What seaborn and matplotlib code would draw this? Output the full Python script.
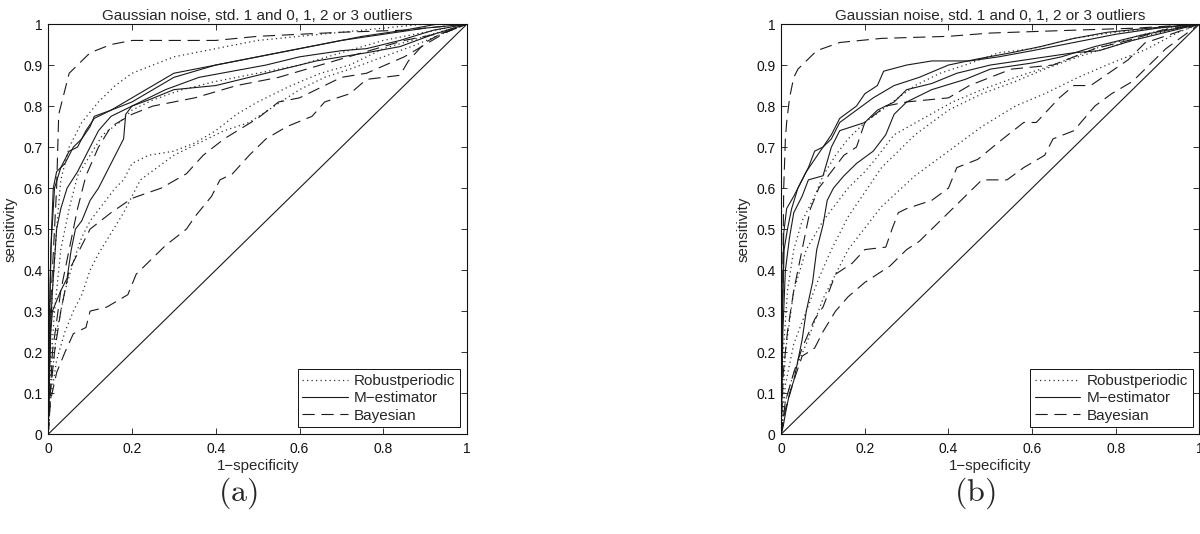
import matplotlib
matplotlib.use("Agg")
import matplotlib.pyplot as plt
import seaborn as sns

# ---- data: ROC curves (1-specificity, sensitivity) ----
TITLE = "Gaussian noise, std. 1 and 0, 1, 2 or 3 outliers"
METHODS = ["Robustperiodic", "M\u2212estimator", "Bayesian"]
X_TICKS = [0, 0.2, 0.4, 0.6, 0.8, 1]
X_TICKLABELS = ["0", "0.2", "0.4", "0.6", "0.8", "1"]
Y_TICKS = [0, 0.1, 0.2, 0.3, 0.4, 0.5, 0.6, 0.7, 0.8, 0.9, 1]
Y_TICKLABELS = ["0", "0.1", "0.2", "0.3", "0.4", "0.5", "0.6", "0.7", "0.8", "0.9", "1"]
DIAG = [0, 1]

# panel (a)
a_rob1_x = [0, 0.005, 0.01, 0.02, 0.03, 0.05, 0.08, 0.12, 0.16, 0.2, 0.25, 0.3, 0.4, 0.5, 0.6, 0.75, 0.9, 1]
a_rob1_y = [0, 0.2, 0.35, 0.5, 0.62, 0.7, 0.76, 0.81, 0.85, 0.88, 0.9, 0.92, 0.94, 0.96, 0.97, 0.985, 1, 1]
a_rob2_x = [0, 0.005, 0.015, 0.03, 0.05, 0.07, 0.1, 0.13, 0.17, 0.2, 0.25, 0.32, 0.4, 0.5, 0.6, 0.7, 0.8, 0.9, 1]
a_rob2_y = [0, 0.15, 0.3, 0.45, 0.55, 0.63, 0.68, 0.73, 0.76, 0.79, 0.815, 0.84, 0.86, 0.88, 0.9, 0.93, 0.96, 0.98, 1]
a_rob3_x = [0, 0.005, 0.02, 0.04, 0.06, 0.08, 0.1, 0.13, 0.16, 0.18, 0.2, 0.24, 0.3, 0.35, 0.4, 0.45, 0.5, 0.58, 0.65, 0.72, 0.8, 0.9, 1]
a_rob3_y = [0, 0.1, 0.25, 0.35, 0.42, 0.48, 0.52, 0.56, 0.6, 0.62, 0.66, 0.68, 0.69, 0.71, 0.74, 0.78, 0.81, 0.85, 0.88, 0.9, 0.94, 0.97, 1]
a_rob4_x = [0, 0.005, 0.02, 0.04, 0.06, 0.08, 0.1, 0.12, 0.15, 0.18, 0.2, 0.22, 0.26, 0.3, 0.36, 0.42, 0.48, 0.54, 0.6, 0.66, 0.72, 0.8, 0.88, 0.95, 1]
a_rob4_y = [0, 0.08, 0.18, 0.25, 0.3, 0.34, 0.4, 0.44, 0.49, 0.54, 0.58, 0.62, 0.65, 0.68, 0.71, 0.74, 0.76, 0.8, 0.84, 0.87, 0.89, 0.92, 0.95, 0.98, 1]

a_mest1_x = [0, 0.003, 0.008, 0.012, 0.02, 0.04, 0.06, 0.08, 0.1, 0.11, 0.15, 0.2, 0.25, 0.3, 0.35, 0.45, 0.55, 0.65, 0.75, 0.85, 0.93, 1]
a_mest1_y = [0, 0.3, 0.5, 0.6, 0.64, 0.66, 0.7, 0.72, 0.75, 0.775, 0.79, 0.82, 0.85, 0.88, 0.89, 0.91, 0.93, 0.95, 0.97, 0.985, 1, 1]
a_mest2_x = [0, 0.003, 0.006, 0.012, 0.015, 0.03, 0.05, 0.07, 0.09, 0.11, 0.15, 0.2, 0.25, 0.3, 0.4, 0.5, 0.6, 0.7, 0.8, 0.9, 1]
a_mest2_y = [0, 0.25, 0.45, 0.55, 0.6, 0.65, 0.69, 0.7, 0.74, 0.77, 0.79, 0.81, 0.84, 0.87, 0.9, 0.92, 0.94, 0.96, 0.975, 0.99, 1]
a_mest3_x = [0, 0.005, 0.01, 0.02, 0.03, 0.045, 0.07, 0.09, 0.12, 0.15, 0.2, 0.28, 0.36, 0.44, 0.52, 0.6, 0.7, 0.76, 0.84, 0.92, 1]
a_mest3_y = [0, 0.25, 0.35, 0.5, 0.55, 0.6, 0.64, 0.68, 0.74, 0.775, 0.8, 0.84, 0.87, 0.885, 0.9, 0.92, 0.935, 0.94, 0.96, 0.985, 1]
a_mest4_x = [0, 0.003, 0.006, 0.01, 0.03, 0.045, 0.055, 0.065, 0.08, 0.1, 0.12, 0.14, 0.16, 0.18, 0.185, 0.2, 0.24, 0.3, 0.4, 0.48, 0.56, 0.64, 0.76, 0.84, 0.92, 1]
a_mest4_y = [0, 0.15, 0.25, 0.3, 0.35, 0.38, 0.45, 0.5, 0.52, 0.57, 0.6, 0.64, 0.68, 0.72, 0.78, 0.8, 0.815, 0.84, 0.85, 0.87, 0.89, 0.91, 0.93, 0.945, 0.975, 1]

a_bay1_x = [0, 0.005, 0.02, 0.025, 0.04, 0.05, 0.07, 0.1, 0.15, 0.2, 0.4, 0.5, 0.7, 0.85, 1]
a_bay1_y = [0, 0.3, 0.6, 0.78, 0.84, 0.88, 0.9, 0.93, 0.95, 0.96, 0.96, 0.97, 0.98, 0.985, 1]
a_bay2_x = [0, 0.01, 0.03, 0.05, 0.07, 0.09, 0.12, 0.15, 0.2, 0.25, 0.35, 0.45, 0.55, 0.65, 0.75, 0.85, 0.95, 1]
a_bay2_y = [0, 0.2, 0.35, 0.45, 0.55, 0.63, 0.7, 0.75, 0.78, 0.8, 0.82, 0.85, 0.87, 0.9, 0.93, 0.96, 0.98, 1]
a_bay3_x = [0, 0.005, 0.015, 0.03, 0.05, 0.08, 0.1, 0.15, 0.2, 0.27, 0.33, 0.37, 0.42, 0.5, 0.55, 0.6, 0.7, 0.76, 0.85, 0.9, 0.95, 1]
a_bay3_y = [0, 0.1, 0.2, 0.3, 0.4, 0.46, 0.5, 0.54, 0.575, 0.6, 0.635, 0.68, 0.72, 0.77, 0.81, 0.82, 0.87, 0.88, 0.92, 0.95, 0.98, 1]
a_bay4_x = [0, 0.005, 0.02, 0.04, 0.06, 0.09, 0.1, 0.14, 0.19, 0.21, 0.24, 0.28, 0.33, 0.35, 0.39, 0.41, 0.44, 0.48, 0.52, 0.57, 0.63, 0.66, 0.72, 0.76, 0.84, 0.86, 0.9, 0.94, 1]
a_bay4_y = [0, 0.08, 0.15, 0.2, 0.245, 0.26, 0.3, 0.31, 0.34, 0.39, 0.42, 0.46, 0.5, 0.53, 0.58, 0.62, 0.635, 0.68, 0.72, 0.75, 0.775, 0.81, 0.83, 0.865, 0.875, 0.91, 0.955, 0.978, 1]

# panel (b)
b_rob1_x = [0, 0.005, 0.015, 0.03, 0.05, 0.08, 0.1, 0.13, 0.16, 0.2, 0.24, 0.28, 0.32, 0.38, 0.44, 0.52, 0.6, 0.7, 0.8, 0.9, 1]
b_rob1_y = [0, 0.2, 0.35, 0.45, 0.52, 0.58, 0.63, 0.68, 0.72, 0.76, 0.79, 0.82, 0.85, 0.88, 0.9, 0.93, 0.94, 0.965, 0.98, 0.99, 1]
b_rob2_x = [0, 0.01, 0.03, 0.06, 0.1, 0.13, 0.16, 0.2, 0.225, 0.27, 0.34, 0.41, 0.48, 0.56, 0.65, 0.75, 0.85, 0.93, 1]
b_rob2_y = [0, 0.2, 0.35, 0.45, 0.52, 0.56, 0.6, 0.64, 0.67, 0.73, 0.77, 0.81, 0.84, 0.87, 0.9, 0.94, 0.97, 0.99, 1]
b_rob3_x = [0, 0.01, 0.03, 0.06, 0.09, 0.12, 0.16, 0.24, 0.32, 0.4, 0.48, 0.56, 0.63, 0.71, 0.79, 0.87, 0.95, 1]
b_rob3_y = [0, 0.12, 0.22, 0.3, 0.38, 0.45, 0.53, 0.65, 0.73, 0.79, 0.83, 0.86, 0.89, 0.92, 0.945, 0.97, 0.99, 1]
b_rob4_x = [0, 0.01, 0.03, 0.06, 0.1, 0.16, 0.24, 0.32, 0.4, 0.48, 0.56, 0.63, 0.71, 0.79, 0.87, 0.95, 1]
b_rob4_y = [0, 0.08, 0.15, 0.22, 0.33, 0.45, 0.555, 0.63, 0.69, 0.75, 0.8, 0.83, 0.87, 0.905, 0.937, 0.98, 1]

b_mest1_x = [0, 0.003, 0.006, 0.013, 0.03, 0.05, 0.065, 0.08, 0.1, 0.12, 0.14, 0.18, 0.2, 0.23, 0.245, 0.3, 0.36, 0.45, 0.52, 0.6, 0.7, 0.8, 0.9, 1]
b_mest1_y = [0, 0.3, 0.49, 0.55, 0.58, 0.62, 0.65, 0.69, 0.7, 0.73, 0.77, 0.8, 0.83, 0.85, 0.885, 0.9, 0.91, 0.91, 0.92, 0.935, 0.955, 0.975, 0.99, 1]
b_mest2_x = [0, 0.003, 0.007, 0.015, 0.025, 0.04, 0.06, 0.08, 0.1, 0.12, 0.14, 0.18, 0.22, 0.27, 0.33, 0.4, 0.47, 0.55, 0.62, 0.7, 0.78, 0.88, 1]
b_mest2_y = [0, 0.3, 0.45, 0.5, 0.55, 0.6, 0.64, 0.67, 0.7, 0.72, 0.76, 0.79, 0.82, 0.85, 0.87, 0.9, 0.915, 0.93, 0.945, 0.965, 0.98, 0.99, 1]
b_mest3_x = [0, 0.004, 0.01, 0.02, 0.03, 0.05, 0.065, 0.1, 0.12, 0.14, 0.2, 0.23, 0.27, 0.3, 0.36, 0.42, 0.5, 0.6, 0.7, 0.76, 0.84, 0.92, 1]
b_mest3_y = [0, 0.25, 0.4, 0.48, 0.54, 0.58, 0.62, 0.63, 0.7, 0.74, 0.76, 0.79, 0.81, 0.84, 0.855, 0.88, 0.9, 0.915, 0.93, 0.935, 0.96, 0.98, 1]
b_mest4_x = [0, 0.005, 0.01, 0.02, 0.03, 0.04, 0.05, 0.06, 0.075, 0.085, 0.1, 0.11, 0.125, 0.15, 0.18, 0.22, 0.25, 0.27, 0.3, 0.36, 0.44, 0.5, 0.6, 0.67, 0.75, 0.87, 0.95, 1]
b_mest4_y = [0, 0.02, 0.05, 0.1, 0.13, 0.18, 0.23, 0.3, 0.37, 0.45, 0.51, 0.57, 0.6, 0.63, 0.66, 0.69, 0.73, 0.78, 0.81, 0.84, 0.865, 0.89, 0.905, 0.92, 0.945, 0.975, 0.99, 1]

b_bay1_x = [0, 0.003, 0.006, 0.01, 0.013, 0.02, 0.03, 0.04, 0.06, 0.085, 0.14, 0.24, 0.4, 0.5, 0.7, 0.85, 1]
b_bay1_y = [0, 0.3, 0.6, 0.72, 0.76, 0.82, 0.87, 0.89, 0.91, 0.935, 0.955, 0.965, 0.97, 0.978, 0.985, 0.99, 1]
b_bay2_x = [0, 0.005, 0.015, 0.03, 0.05, 0.07, 0.09, 0.12, 0.15, 0.18, 0.2, 0.25, 0.3, 0.4, 0.45, 0.5, 0.55, 0.65, 0.75, 0.83, 0.91, 1]
b_bay2_y = [0, 0.15, 0.25, 0.35, 0.45, 0.55, 0.6, 0.64, 0.68, 0.7, 0.76, 0.8, 0.81, 0.82, 0.85, 0.87, 0.89, 0.9, 0.94, 0.96, 0.985, 1]
b_bay3_x = [0, 0.01, 0.03, 0.05, 0.08, 0.1, 0.13, 0.17, 0.2, 0.25, 0.265, 0.28, 0.3, 0.36, 0.4, 0.42, 0.47, 0.53, 0.58, 0.61, 0.665, 0.7, 0.74, 0.83, 0.87, 0.94, 1]
b_bay3_y = [0, 0.08, 0.15, 0.21, 0.28, 0.31, 0.39, 0.417, 0.45, 0.456, 0.5, 0.54, 0.55, 0.57, 0.6, 0.65, 0.67, 0.72, 0.76, 0.76, 0.82, 0.85, 0.85, 0.913, 0.954, 0.978, 1]
b_bay4_x = [0, 0.01, 0.03, 0.05, 0.08, 0.1, 0.13, 0.16, 0.2, 0.23, 0.26, 0.3, 0.33, 0.36, 0.39, 0.43, 0.48, 0.54, 0.58, 0.63, 0.65, 0.7, 0.75, 0.79, 0.84, 0.88, 0.92, 0.96, 1]
b_bay4_y = [0, 0.06, 0.13, 0.19, 0.21, 0.25, 0.3, 0.335, 0.37, 0.39, 0.41, 0.45, 0.47, 0.5, 0.53, 0.57, 0.62, 0.62, 0.65, 0.68, 0.72, 0.74, 0.8, 0.83, 0.86, 0.9, 0.94, 0.97, 1]

PANELS = {
    "a": [
        ([a_rob1_x, a_rob2_x, a_rob3_x, a_rob4_x], [a_rob1_y, a_rob2_y, a_rob3_y, a_rob4_y]),
        ([a_mest1_x, a_mest2_x, a_mest3_x, a_mest4_x], [a_mest1_y, a_mest2_y, a_mest3_y, a_mest4_y]),
        ([a_bay1_x, a_bay2_x, a_bay3_x, a_bay4_x], [a_bay1_y, a_bay2_y, a_bay3_y, a_bay4_y]),
    ],
    "b": [
        ([b_rob1_x, b_rob2_x, b_rob3_x, b_rob4_x], [b_rob1_y, b_rob2_y, b_rob3_y, b_rob4_y]),
        ([b_mest1_x, b_mest2_x, b_mest3_x, b_mest4_x], [b_mest1_y, b_mest2_y, b_mest3_y, b_mest4_y]),
        ([b_bay1_x, b_bay2_x, b_bay3_x, b_bay4_x], [b_bay1_y, b_bay2_y, b_bay3_y, b_bay4_y]),
    ],
}

# ---- styling ----
sns.set_style("ticks")
plt.rcParams["font.family"] = ["Liberation Sans", "DejaVu Sans"]
plt.rcParams["mathtext.fontset"] = "cm"

STYLES = [
    dict(linestyle=(0, (1, 2.6)), color="#303030", linewidth=0.9),   # dotted
    dict(linestyle="-", color="#1a1a1a", linewidth=0.8),             # solid
    dict(linestyle=(0, (11, 6)), color="#1a1a1a", linewidth=0.8),    # dashed
]

fig = plt.figure(figsize=(12, 5.34), dpi=100)
ax_pos = {"a": [0.0402, 0.187, 0.349, 0.768], "b": [0.651, 0.187, 0.3485, 0.768]}
cap_x = {"a": 0.198, "b": 0.8125}

for key, curves in PANELS.items():
    ax = fig.add_axes(ax_pos[key])
    handles = []
    for (xs_list, ys_list), style in zip(curves, STYLES):
        for xs, ys in zip(xs_list, ys_list):
            sns.lineplot(x=xs, y=ys, ax=ax, sort=False, estimator=None,
                         legend=False, **style)
        handles.append(ax.lines[-1])
    sns.lineplot(x=DIAG, y=DIAG, ax=ax, sort=False, estimator=None,
                 legend=False, color="#1a1a1a", linewidth=0.8)

    ax.set_xlim(0, 1)
    ax.set_ylim(0, 1)
    ax.set_xticks(X_TICKS)
    ax.set_xticklabels(X_TICKLABELS)
    ax.set_yticks(Y_TICKS)
    ax.set_yticklabels(Y_TICKLABELS)
    ax.tick_params(direction="in", length=4, width=0.6, top=True, right=True,
                   labelsize=10, colors="#111111")
    ax.tick_params(axis="x", pad=6)
    ax.tick_params(axis="y", pad=4)
    for sp in ax.spines.values():
        sp.set_visible(True)
        sp.set_linewidth(0.8)
        sp.set_color("#111111")
    ax.set_xlabel("1\u2212specificity", fontsize=10.8, labelpad=2)
    ax.set_ylabel("sensitivity", fontsize=10.8, labelpad=4)
    ax.set_title(TITLE, fontsize=11, pad=3)

    leg = ax.legend(handles, METHODS, loc="lower right", fontsize=11,
                    fancybox=False, framealpha=1, edgecolor="#111111",
                    handlelength=3.0, handletextpad=0.4, borderpad=0.3,
                    labelspacing=0.22, borderaxespad=0.45)
    leg.get_frame().set_linewidth(0.7)

    fig.text(cap_x[key], 0.077, r"$\mathrm{(" + key + ")}$", fontsize=23,
             ha="center", va="center")

fig.savefig("out.png", dpi=100)
